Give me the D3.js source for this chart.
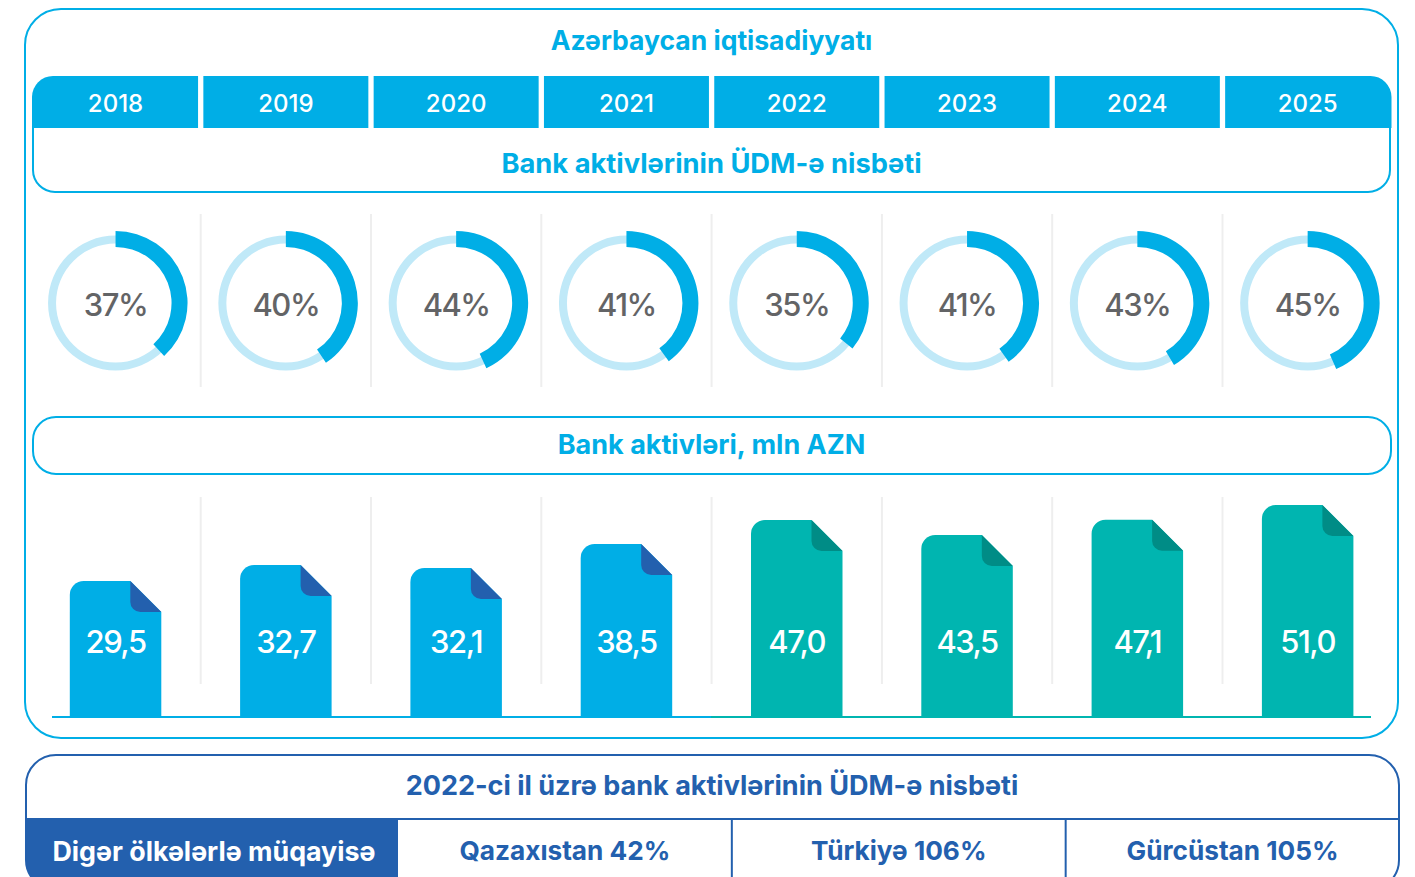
<!DOCTYPE html>
<html>
<head>
<meta charset="utf-8">
<style>
html, body { margin: 0; padding: 0; background: #fff; overflow: hidden; }
text { font-family: Inter, "Noto Sans", sans-serif; }
</style>
<script src="https://cdn.jsdelivr.net/npm/d3@7"></script>
</head>
<body>
<div id="chart"></div>
<script>
const years = ["2018", "2019", "2020", "2021", "2022", "2023", "2024", "2025"];
const gdpShare = [37, 40, 44, 41, 35, 41, 43, 45];
// the rings in the source do not quite follow their labels, these are read off the arcs
const ringShare = [38.2, 40.6, 43.1, 40, 35.9, 40.2, 41.5, 43.5];
const assets = [29.5, 32.7, 32.1, 38.5, 47.0, 43.5, 47.1, 51.0];
const tealFrom = "2022";
const countries = ["Qazaxıstan 42%", "Türkiyə 106%", "Gürcüstan 105%"];

const titleMain = "Azərbaycan iqtisadiyyatı";
const titleShare = "Bank aktivlərinin ÜDM-ə nisbəti";
const titleAssets = "Bank aktivləri, mln AZN";
const titleCompare = "2022-ci il üzrə bank aktivlərinin ÜDM-ə nisbəti";
const compareLabel = "Digər ölkələrlə müqayisə";

const config = {
    blue: "#00aee6",
    lightBlue: "#c0e9f8",
    navy: "#2360ae",
    teal: "#00b5b0",
    tealDark: "#008c86",
    grey: "#636466",
    rule: "#eeeeee"
};

const width = 1415, height = 877;
const svg = d3.select("#chart").append("svg")
    .attr("width", width)
    .attr("height", height)
    .style("display", "block");

const x = d3.scaleBand().domain(years).range([30.4, 1392.8]);
const cx = d => x(d) + x.bandwidth() / 2;

// hand drawn in the source: heights do not start at zero, so piecewise
const y = d3.scaleLinear()
    .domain([29.5, 32.1, 32.7, 38.5, 43.5, 47.0, 51.0])
    .range([581, 568, 565, 544, 535, 520, 505]);
const baseline = 717;

// outer panel
svg.append("rect")
    .attr("x", 25).attr("y", 9)
    .attr("width", 1373).attr("height", 729)
    .attr("rx", 36)
    .attr("fill", "none")
    .attr("stroke", config.blue)
    .attr("stroke-width", 2);

const heading = (label, px, py, size, color) => svg.append("text")
    .attr("x", px).attr("y", py)
    .attr("text-anchor", "middle")
    .attr("font-size", size)
    .attr("font-weight", 700)
    .attr("fill", color)
    .text(label);

heading(titleMain, 711.5, 50, 26.5, config.blue);

// box under the years
svg.append("path")
    .attr("d", "M33,110V170a22,22 0 0 0 22,22H1368a22,22 0 0 0 22,-22V110")
    .attr("fill", "none")
    .attr("stroke", config.blue)
    .attr("stroke-width", 2);

// year header cells
const cellPath = (d, i) => {
    const l = i === 0 ? 32 : cx(d) - 82.5;
    const r = i === years.length - 1 ? 1391.5 : cx(d) + 82.5;
    const rl = i === 0 ? 21 : 0, rr = i === years.length - 1 ? 21 : 0;
    return `M${l},128V${76 + rl}a${rl},${rl} 0 0 1 ${rl},${-rl}H${r - rr}a${rr},${rr} 0 0 1 ${rr},${rr}V128Z`;
};
svg.append("g").selectAll("path")
    .data(years)
    .enter().append("path")
    .attr("d", cellPath)
    .attr("fill", config.blue);
svg.append("g").selectAll("text")
    .data(years)
    .enter().append("text")
    .attr("x", cx)
    .attr("y", 112)
    .attr("text-anchor", "middle")
    .attr("font-size", 24)
    .attr("font-weight", 500)
    .attr("fill", "#fff")
    .text(d => d);

heading(titleShare, 711.5, 173, 27.3, config.blue);

// separators
[[214, 387], [497, 684]].forEach(([top, bottom]) => {
    svg.append("g").selectAll("line")
        .data(years.slice(1))
        .enter().append("line")
        .attr("x1", d => x(d)).attr("x2", d => x(d))
        .attr("y1", top).attr("y2", bottom)
        .attr("stroke", config.rule)
        .attr("stroke-width", 2);
});

// donuts
const angle = d3.scaleLinear().domain([0, 100]).range([0, 2 * Math.PI]);
const track = d3.arc().innerRadius(59.5).outerRadius(67.5).startAngle(0).endAngle(2 * Math.PI);
const value = d3.arc().innerRadius(56).outerRadius(72).startAngle(0);

const donuts = svg.append("g").selectAll("g")
    .data(years)
    .enter().append("g")
    .attr("transform", d => `translate(${cx(d)},303)`);
donuts.append("path").attr("d", track()).attr("fill", config.lightBlue);
donuts.append("path")
    .attr("d", (d, i) => value({ endAngle: angle(ringShare[i]) }))
    .attr("fill", config.blue);
donuts.append("text")
    .attr("y", 13)
    .attr("text-anchor", "middle")
    .attr("font-size", 31)
    .attr("font-weight", 500)
    .attr("letter-spacing", -1.5)
    .attr("fill", config.grey)
    .text((d, i) => gdpShare[i] + "%");

// assets header
svg.append("rect")
    .attr("x", 33).attr("y", 417)
    .attr("width", 1358).attr("height", 57)
    .attr("rx", 23)
    .attr("fill", "none")
    .attr("stroke", config.blue)
    .attr("stroke-width", 2);
heading(titleAssets, 711.5, 454, 27, config.blue);

// baseline
const baseGrad = svg.append("defs").append("linearGradient")
    .attr("id", "baseGrad")
    .attr("gradientUnits", "userSpaceOnUse")
    .attr("x1", 52).attr("x2", 1371).attr("y1", 0).attr("y2", 0);
baseGrad.append("stop").attr("offset", "50%").attr("stop-color", config.blue);
baseGrad.append("stop").attr("offset", "50%").attr("stop-color", config.teal);
svg.append("rect")
    .attr("x", 52).attr("y", baseline - 1)
    .attr("width", 1319).attr("height", 2)
    .attr("fill", "url(#baseGrad)");

// document shaped bars
const barW = 91.5, fold = 31, corner = 14;
const isTeal = d => +d >= +tealFrom;
const docs = svg.append("g").selectAll("g")
    .data(years)
    .enter().append("g")
    .attr("transform", d => `translate(${cx(d) - barW / 2},0)`);
docs.append("path")
    .attr("d", (d, i) => {
        const top = y(assets[i]);
        return `M0,${baseline}V${top + corner}a${corner},${corner} 0 0 1 ${corner},${-corner}H${barW - fold}L${barW},${top + fold}V${baseline}Z`;
    })
    .attr("fill", d => isTeal(d) ? config.teal : config.blue);
docs.append("path")
    .attr("d", (d, i) => {
        const top = y(assets[i]);
        return `M${barW - fold},${top}V${top + fold - 10}a10,10 0 0 0 10,10H${barW}Z`;
    })
    .attr("fill", d => isTeal(d) ? config.tealDark : config.navy);
docs.append("text")
    .attr("x", barW / 2)
    .attr("y", 653)
    .attr("text-anchor", "middle")
    .attr("font-size", 31)
    .attr("font-weight", 500)
    .attr("letter-spacing", -1.5)
    .attr("fill", "#fff")
    .text((d, i) => d3.format(".1f")(assets[i]).replace(".", ","));

// comparison panel
const bottomLeftX = 26, bottomRightX = 1399;
const cols = d3.scaleLinear().domain([0, countries.length]).range([398, 1399.5]);

svg.append("path")
    .attr("d", `M${bottomLeftX},819V860a30,30 0 0 0 30,30H398V819Z`)
    .attr("fill", config.navy);
svg.append("rect")
    .attr("x", bottomLeftX).attr("y", 755)
    .attr("width", bottomRightX - bottomLeftX).attr("height", 135)
    .attr("rx", 30)
    .attr("fill", "none")
    .attr("stroke", config.navy)
    .attr("stroke-width", 2);
svg.append("line")
    .attr("x1", bottomLeftX).attr("x2", bottomRightX)
    .attr("y1", 819).attr("y2", 819)
    .attr("stroke", config.navy)
    .attr("stroke-width", 2);
svg.append("g").selectAll("line")
    .data(d3.range(1, countries.length))
    .enter().append("line")
    .attr("x1", cols).attr("x2", cols)
    .attr("y1", 819).attr("y2", 877)
    .attr("stroke", config.navy)
    .attr("stroke-width", 2);

heading(titleCompare, 712, 795, 27, config.navy);
heading(compareLabel, 214, 861, 26.8, "#fff");
countries.forEach((c, i) => heading(c, cols(i + 0.5), 860, 26.2, config.navy));
</script>
</body>
</html>
